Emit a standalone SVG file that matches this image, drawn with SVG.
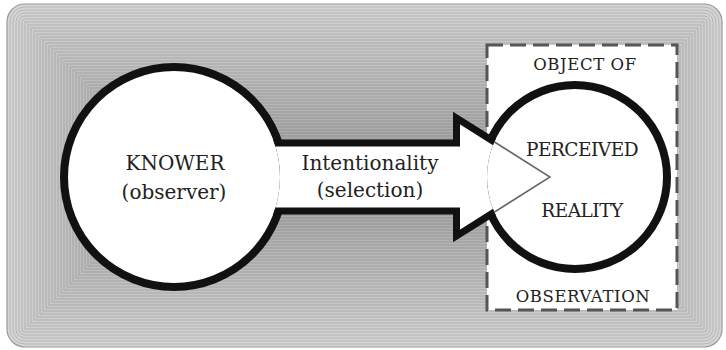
<svg xmlns="http://www.w3.org/2000/svg" width="726" height="350" viewBox="0 0 726 350">
<style>
.ring{stroke:#000;stroke-opacity:0.14;stroke-width:1}
.node{fill:#fff;stroke:#111;stroke-width:8}
.lbl{font-family:"DejaVu Serif","Liberation Serif",serif;font-size:20px;fill:#222;text-anchor:middle}
.caps{font-family:"DejaVu Serif","Liberation Serif",serif;font-size:18.5px;fill:#222;text-anchor:middle;letter-spacing:-0.5px}
.cap{font-family:"DejaVu Serif","Liberation Serif",serif;font-size:16.5px;fill:#222;text-anchor:middle;letter-spacing:0.6px}
</style>
<defs>
<mask id="hide" maskUnits="userSpaceOnUse" x="0" y="0" width="726" height="350">
<rect x="0" y="0" width="726" height="350" fill="#fff"/>
<circle cx="174" cy="177" r="106" fill="#000"/>
<circle cx="575" cy="177" r="88" fill="#000"/>
</mask>
<clipPath id="inside">
<circle cx="575" cy="177" r="88"/>
</clipPath>
</defs>
<g id="background">
<rect x="7" y="4" width="715" height="343" rx="18" fill="#d6d6d6" stroke="#999" stroke-width="1.2"/>
<rect class="ring" fill="#d5d5d5" x="10" y="7" width="709" height="337" rx="15"/>
<rect class="ring" fill="#d4d4d4" x="13" y="10" width="703" height="331" rx="12"/>
<rect class="ring" fill="#d3d3d3" x="16" y="13" width="697" height="325" rx="9"/>
<rect class="ring" fill="#d2d2d2" x="19" y="16" width="691" height="319" rx="6"/>
<rect class="ring" fill="#d1d1d1" x="22" y="19" width="685" height="313" rx="3"/>
<rect class="ring" fill="#d0d0d0" x="25" y="22" width="679" height="307"/>
<rect class="ring" fill="#cfcfcf" x="28" y="25" width="673" height="301"/>
<rect class="ring" fill="#cecece" x="31" y="28" width="667" height="295"/>
<rect class="ring" fill="#cdcdcd" x="34" y="31" width="661" height="289"/>
<rect class="ring" fill="#cccccc" x="37" y="34" width="655" height="283"/>
<rect class="ring" fill="#cbcbcb" x="40" y="37" width="649" height="277"/>
<rect class="ring" fill="#cacaca" x="43" y="40" width="643" height="271"/>
<rect class="ring" fill="#c9c9c9" x="46" y="43" width="637" height="265"/>
<rect class="ring" fill="#c8c8c8" x="49" y="46" width="631" height="259"/>
<rect class="ring" fill="#c7c7c7" x="52" y="49" width="625" height="253"/>
<rect class="ring" fill="#c6c6c6" x="55" y="52" width="619" height="247"/>
<rect class="ring" fill="#c5c5c5" x="58" y="55" width="613" height="241"/>
<rect class="ring" fill="#c4c4c4" x="61" y="58" width="607" height="235"/>
<rect class="ring" fill="#c3c3c3" x="64" y="61" width="601" height="229"/>
<rect class="ring" fill="#c2c2c2" x="67" y="64" width="595" height="223"/>
<rect class="ring" fill="#c1c1c1" x="70" y="67" width="589" height="217"/>
<rect class="ring" fill="#c0c0c0" x="73" y="70" width="583" height="211"/>
<rect class="ring" fill="#bfbfbf" x="76" y="73" width="577" height="205"/>
<rect class="ring" fill="#bebebe" x="79" y="76" width="571" height="199"/>
<rect class="ring" fill="#bdbdbd" x="82" y="79" width="565" height="193"/>
<rect class="ring" fill="#bcbcbc" x="85" y="82" width="559" height="187"/>
<rect class="ring" fill="#bbbbbb" x="88" y="85" width="553" height="181"/>
<rect class="ring" fill="#bababa" x="91" y="88" width="547" height="175"/>
<rect class="ring" fill="#b9b9b9" x="94" y="91" width="541" height="169"/>
<rect class="ring" fill="#b8b8b8" x="97" y="94" width="535" height="163"/>
<rect class="ring" fill="#b7b7b7" x="100" y="97" width="529" height="157"/>
<rect class="ring" fill="#b6b6b6" x="103" y="100" width="523" height="151"/>
<rect class="ring" fill="#b5b5b5" x="106" y="103" width="517" height="145"/>
<rect class="ring" fill="#b4b4b4" x="109" y="106" width="511" height="139"/>
<rect class="ring" fill="#b3b3b3" x="112" y="109" width="505" height="133"/>
<rect class="ring" fill="#b2b2b2" x="115" y="112" width="499" height="127"/>
<rect class="ring" fill="#b1b1b1" x="118" y="115" width="493" height="121"/>
<rect class="ring" fill="#b0b0b0" x="121" y="118" width="487" height="115"/>
<rect class="ring" fill="#afafaf" x="124" y="121" width="481" height="109"/>
<rect class="ring" fill="#aeaeae" x="127" y="124" width="475" height="103"/>
<rect class="ring" fill="#adadad" x="130" y="127" width="469" height="97"/>
<rect class="ring" fill="#acacac" x="133" y="130" width="463" height="91"/>
<rect class="ring" fill="#ababab" x="136" y="133" width="457" height="85"/>
<rect class="ring" fill="#aaaaaa" x="139" y="136" width="451" height="79"/>
<rect class="ring" fill="#a9a9a9" x="142" y="139" width="445" height="73"/>
<rect class="ring" fill="#a8a8a8" x="145" y="142" width="439" height="67"/>
<rect class="ring" fill="#a7a7a7" x="148" y="145" width="433" height="61"/>
<rect class="ring" fill="#a6a6a6" x="151" y="148" width="427" height="55"/>
<rect class="ring" fill="#a5a5a5" x="154" y="151" width="421" height="49"/>
<rect class="ring" fill="#a4a4a4" x="157" y="154" width="415" height="43"/>
<rect class="ring" fill="#a3a3a3" x="160" y="157" width="409" height="37"/>
<rect class="ring" fill="#a2a2a2" x="163" y="160" width="403" height="31"/>
<rect class="ring" fill="#a1a1a1" x="166" y="163" width="397" height="25"/>
<rect class="ring" fill="#a0a0a0" x="169" y="166" width="391" height="19"/>
<rect class="ring" fill="#9f9f9f" x="172" y="169" width="385" height="13"/>
<rect class="ring" fill="#9e9e9e" x="175" y="172" width="379" height="7"/>
</g>
<g id="object-of-observation">
<rect x="487" y="45" width="190" height="265" fill="#fff" stroke="#555" stroke-width="3" stroke-dasharray="16 7"/>
<text class="cap" x="585" y="70">OBJECT OF</text>
<text class="cap" x="583" y="302">OBSERVATION</text>
</g>
<g id="knower">
<circle class="node" cx="174" cy="177" r="110"/>
<text class="lbl" x="175" y="170">KNOWER</text>
<text class="lbl" x="174" y="199">(observer)</text>
</g>
<g id="perceived-reality">
<circle class="node" cx="575" cy="177" r="92"/>
<text class="caps" x="582" y="156">PERCEIVED</text>
<text class="caps" x="582" y="217">REALITY</text>
</g>
<g id="connectors">
<path d="M230,143 L456.5,143 L456.5,118 L550,177 L456.5,236 L456.5,211 L230,211 Z" fill="#fff" stroke="#111" stroke-width="7" stroke-miterlimit="10" mask="url(#hide)"/>
<polyline points="456.5,118 550,177 456.5,236" fill="none" stroke="#666" stroke-width="1.5" clip-path="url(#inside)"/>
<text class="lbl" x="370" y="170">Intentionality</text>
<text class="lbl" x="370" y="197">(selection)</text>
</g>
</svg>
